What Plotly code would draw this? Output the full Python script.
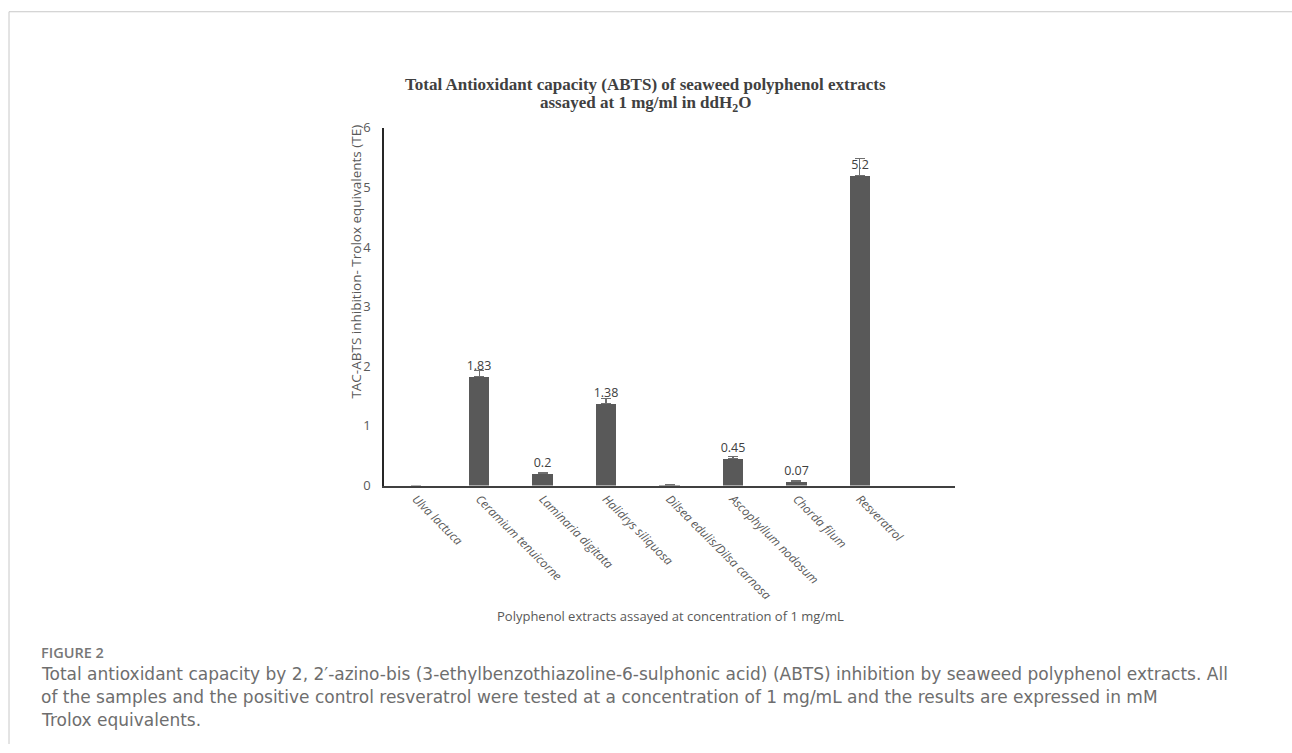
import plotly.graph_objects as go

W, H = 1292, 753

categories = ["Ulva lactuca", "Ceramium tenuicorne", "Laminaria digitata", "Halidrys siliquosa",
              "Dilsea edulis/Dilsa carnosa", "Ascophyllum nodosum", "Chorda filum", "Resveratrol"]
values = [0, 1.83, 0.2, 1.38, 0.01, 0.45, 0.07, 5.2]
errors = [None, 0.10, 0.01, 0.08, 0.0, 0.04, 0.01, 0.28]
labels = ["", "1.83", "0.2", "1.38", "", "0.45", "0.07", "5.2"]
y_ticks = [0, 1, 2, 3, 4, 5, 6]

title_lines = ["<b>Total Antioxidant capacity (ABTS) of seaweed polyphenol extracts</b>",
               "<b>assayed at 1 mg/ml in ddH<sub>2</sub>O</b>"]
caption_lines = [
    "Total antioxidant capacity by 2, 2\u2032-azino-bis (3-ethylbenzothiazoline-6-sulphonic acid) (ABTS) inhibition by seaweed polyphenol extracts. All",
    "of the samples and the positive control resveratrol were tested at a concentration of 1 mg/mL and the results are expressed in mM",
    "Trolox equivalents.",
]

xs = list(range(len(categories)))

# page-to-picture compensation (vertical)
VS, VT = 0.9766, 8.45

def px_x(p):
    return p / W

def px_y(p):
    return 1 - (p / VS - VT) / H

fig = go.Figure()
fig.add_trace(go.Bar(
    x=xs, y=values, width=0.32,
    marker=dict(color="#595959", line=dict(width=0)),
    error_y=dict(type="data", array=errors, symmetric=False, arrayminus=[0]*len(errors),
                 color="#6f6f6f", thickness=1.2, width=5),
    text=labels, textposition="outside", cliponaxis=False, constraintext="none",
    textfont=dict(family="Open Sans, sans-serif", size=12.5, color="#404040"),
    showlegend=False,
))

annotations = []
for line, yy in zip(title_lines, [84, 103]):
    annotations.append(dict(text=line, x=px_x(645), y=px_y(yy), xref="paper", yref="paper",
                            showarrow=False, xanchor="center", yanchor="middle",
                            font=dict(family="Liberation Serif, serif", size=17, color="#404040")))
annotations += [
    dict(text="TAC-ABTS inhibition- Trolox equivalents (TE)",
         x=px_x(356), y=px_y(261), xref="paper", yref="paper", showarrow=False,
         textangle=-90, xanchor="center", yanchor="middle",
         font=dict(family="Open Sans, sans-serif", size=13.5, color="#595959")),
    dict(text="Polyphenol extracts assayed at concentration of 1 mg/mL",
         x=px_x(670), y=px_y(616), xref="paper", yref="paper", showarrow=False,
         xanchor="center", yanchor="middle",
         font=dict(family="Open Sans, sans-serif", size=13, color="#595959")),
    dict(text="FIGURE 2",
         x=px_x(39), y=px_y(652), xref="paper", yref="paper", showarrow=False,
         xanchor="left", yanchor="middle",
         font=dict(family="Open Sans, sans-serif", size=14.5, color="#777777", weight=600)),
]
for line, yy in zip(caption_lines, [674, 697, 720]):
    annotations.append(dict(text=line, x=px_x(39), y=px_y(yy), xref="paper", yref="paper",
                            showarrow=False, xanchor="left", yanchor="middle", align="left",
                            font=dict(family="DejaVu Sans, sans-serif", size=17, color="#6e6e6e")))

fig.update_layout(
    width=W, height=H, autosize=False,
    margin=dict(l=0, r=0, t=0, b=0),
    paper_bgcolor="white", plot_bgcolor="white",
    bargap=0,
    xaxis=dict(
        domain=[px_x(384), px_x(955)],
        range=[-0.5, 8.5],
        tickmode="array", tickvals=xs,
        ticktext=[f"<i>{c}</i>" for c in categories],
        tickangle=45,
        tickfont=dict(family="Open Sans, sans-serif", size=12, color="#595959"),
        showline=True, linecolor="#404040", linewidth=1.5,
        showgrid=False, zeroline=False, ticks="",
    ),
    yaxis=dict(
        domain=[px_y(485), px_y(127)],
        range=[0, 6],
        tickmode="array", tickvals=y_ticks,
        tickfont=dict(family="Open Sans, sans-serif", size=13, color="#595959"),
        showline=True, linecolor="#262626", linewidth=1.5,
        showgrid=False, zeroline=False, ticks="", ticklabelstandoff=9,
    ),
    annotations=annotations,
    shapes=[
        dict(type="line", xref="paper", yref="paper", x0=px_x(9), x1=1, y0=px_y(11), y1=px_y(11),
             line=dict(color="#c8c8c8", width=1)),
        dict(type="line", xref="paper", yref="paper", x0=px_x(9), x1=px_x(9), y0=px_y(11), y1=0,
             line=dict(color="#c8c8c8", width=1)),
    ],
)

post = ("var g=document.getElementById('{plot_id}');"
        "g.style.position='fixed';g.style.top='0px';g.style.left='0px';"
        "document.body.style.margin='0';document.body.style.overflow='hidden';"
        "document.documentElement.style.overflow='hidden';")

fig.write_html("out.html", config={"displayModeBar": False}, post_script=post)
